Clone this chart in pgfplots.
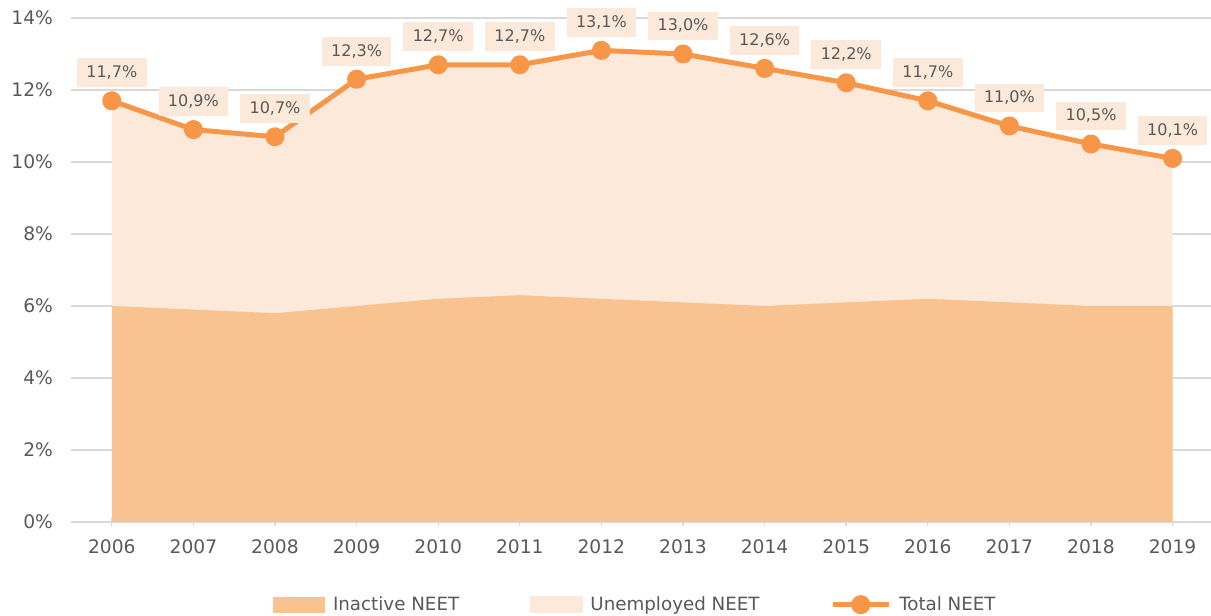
\documentclass[border=0pt]{standalone}
\usepackage{pgfplots}
\pgfplotsset{compat=1.18}
\usepackage{fontspec}
\setmainfont{DejaVu Sans}
\definecolor{inact}{HTML}{F8C291}
\definecolor{unemp}{HTML}{FDE9DA}
\definecolor{totl}{HTML}{F79646}
\definecolor{txt}{HTML}{595959}
\definecolor{gridc}{HTML}{D9D9D9}
\begin{document}
\begin{tikzpicture}
\begin{axis}[
  name=ax,
  width=855pt, height=378pt, scale only axis,
  xmin=2005.5, xmax=2019.47,
  ymin=0, ymax=14,
  xtick={2006,...,2019}, ytick={0,2,...,14},
  /pgf/number format/assume math mode=true,
  xticklabel style={/pgf/number format/1000 sep=},
  yticklabel={\pgfmathprintnumber{\tick}\%},
  ticklabel style={font=\fontsize{14}{16}\selectfont, text=txt},
  xticklabel style={yshift=-7pt},
  yticklabel style={xshift=-7pt},
  axis x line*=bottom, axis y line*=left,
  x axis line style={draw=gridc, line width=1pt, -},
  y axis line style={draw=none},
  ytick style={draw=none},
  xtick style={draw=gridc, line width=1pt},
  tick align=center, major tick length=6pt,
  ymajorgrids, grid style={gridc, line width=1pt},
  legend style={at={(axis description cs:0.5,0)}, anchor=center, yshift=-62pt, xshift=-4pt,
    draw=none, legend columns=3, font=\fontsize{13.7}{16}\selectfont, text=txt,
    /tikz/every odd column/.append style={column sep=4pt},
    /tikz/every even column/.append style={column sep=51pt}},
  legend cell align=left,
]
\addplot[fill=unemp, draw=none, forget plot] coordinates {
  (2006,11.7) (2007,10.9) (2008,10.7) (2009,12.3) (2010,12.7) (2011,12.7) (2012,13.1)
  (2013,13.0) (2014,12.6) (2015,12.2) (2016,11.7) (2017,11.0) (2018,10.5) (2019,10.1)
} \closedcycle;
\addplot[fill=inact, draw=none,
  legend image code/.code={\fill[inact] (0pt,-6pt) rectangle (39pt,6pt);}] coordinates {
  (2006,6.0) (2007,5.9) (2008,5.8) (2009,6.0) (2010,6.2) (2011,6.3) (2012,6.2)
  (2013,6.1) (2014,6.0) (2015,6.1) (2016,6.2) (2017,6.1) (2018,6.0) (2019,6.0)
} \closedcycle;
\addlegendentry{Inactive NEET}
\addlegendimage{legend image code/.code={\fill[unemp] (0pt,-6pt) rectangle (39pt,6pt);}}
\addlegendentry{Unemployed NEET}
\addplot[totl, line width=3.75pt, line join=round, mark=*, mark size=5.25pt,
  mark options={fill=totl, draw=none},
  legend image code/.code={\draw[totl, line width=3.75pt] (0pt,0pt) -- (42pt,0pt);
     \fill[totl] (21pt,0pt) circle (5.25pt);},
  point meta=y,
  nodes near coords={\pgfmathprintnumber[fixed,fixed zerofill,precision=1,use comma]{\pgfplotspointmeta}\%},
  every node near coord/.append style={fill=unemp, text=txt, anchor=center, yshift=21pt,
    font=\fontsize{12}{14}\selectfont, inner xsep=7pt, minimum height=21.5pt}
] coordinates {
  (2006,11.7) (2007,10.9) (2008,10.7) (2009,12.3) (2010,12.7) (2011,12.7) (2012,13.1)
  (2013,13.0) (2014,12.6) (2015,12.2) (2016,11.7) (2017,11.0) (2018,10.5) (2019,10.1)
};
\addlegendentry{Total NEET}
\end{axis}
\pgfresetboundingbox
\path ([xshift=-53.25pt,yshift=-70.5pt]ax.south west) rectangle ([yshift=13.5pt]ax.north east);
\end{tikzpicture}
\end{document}
